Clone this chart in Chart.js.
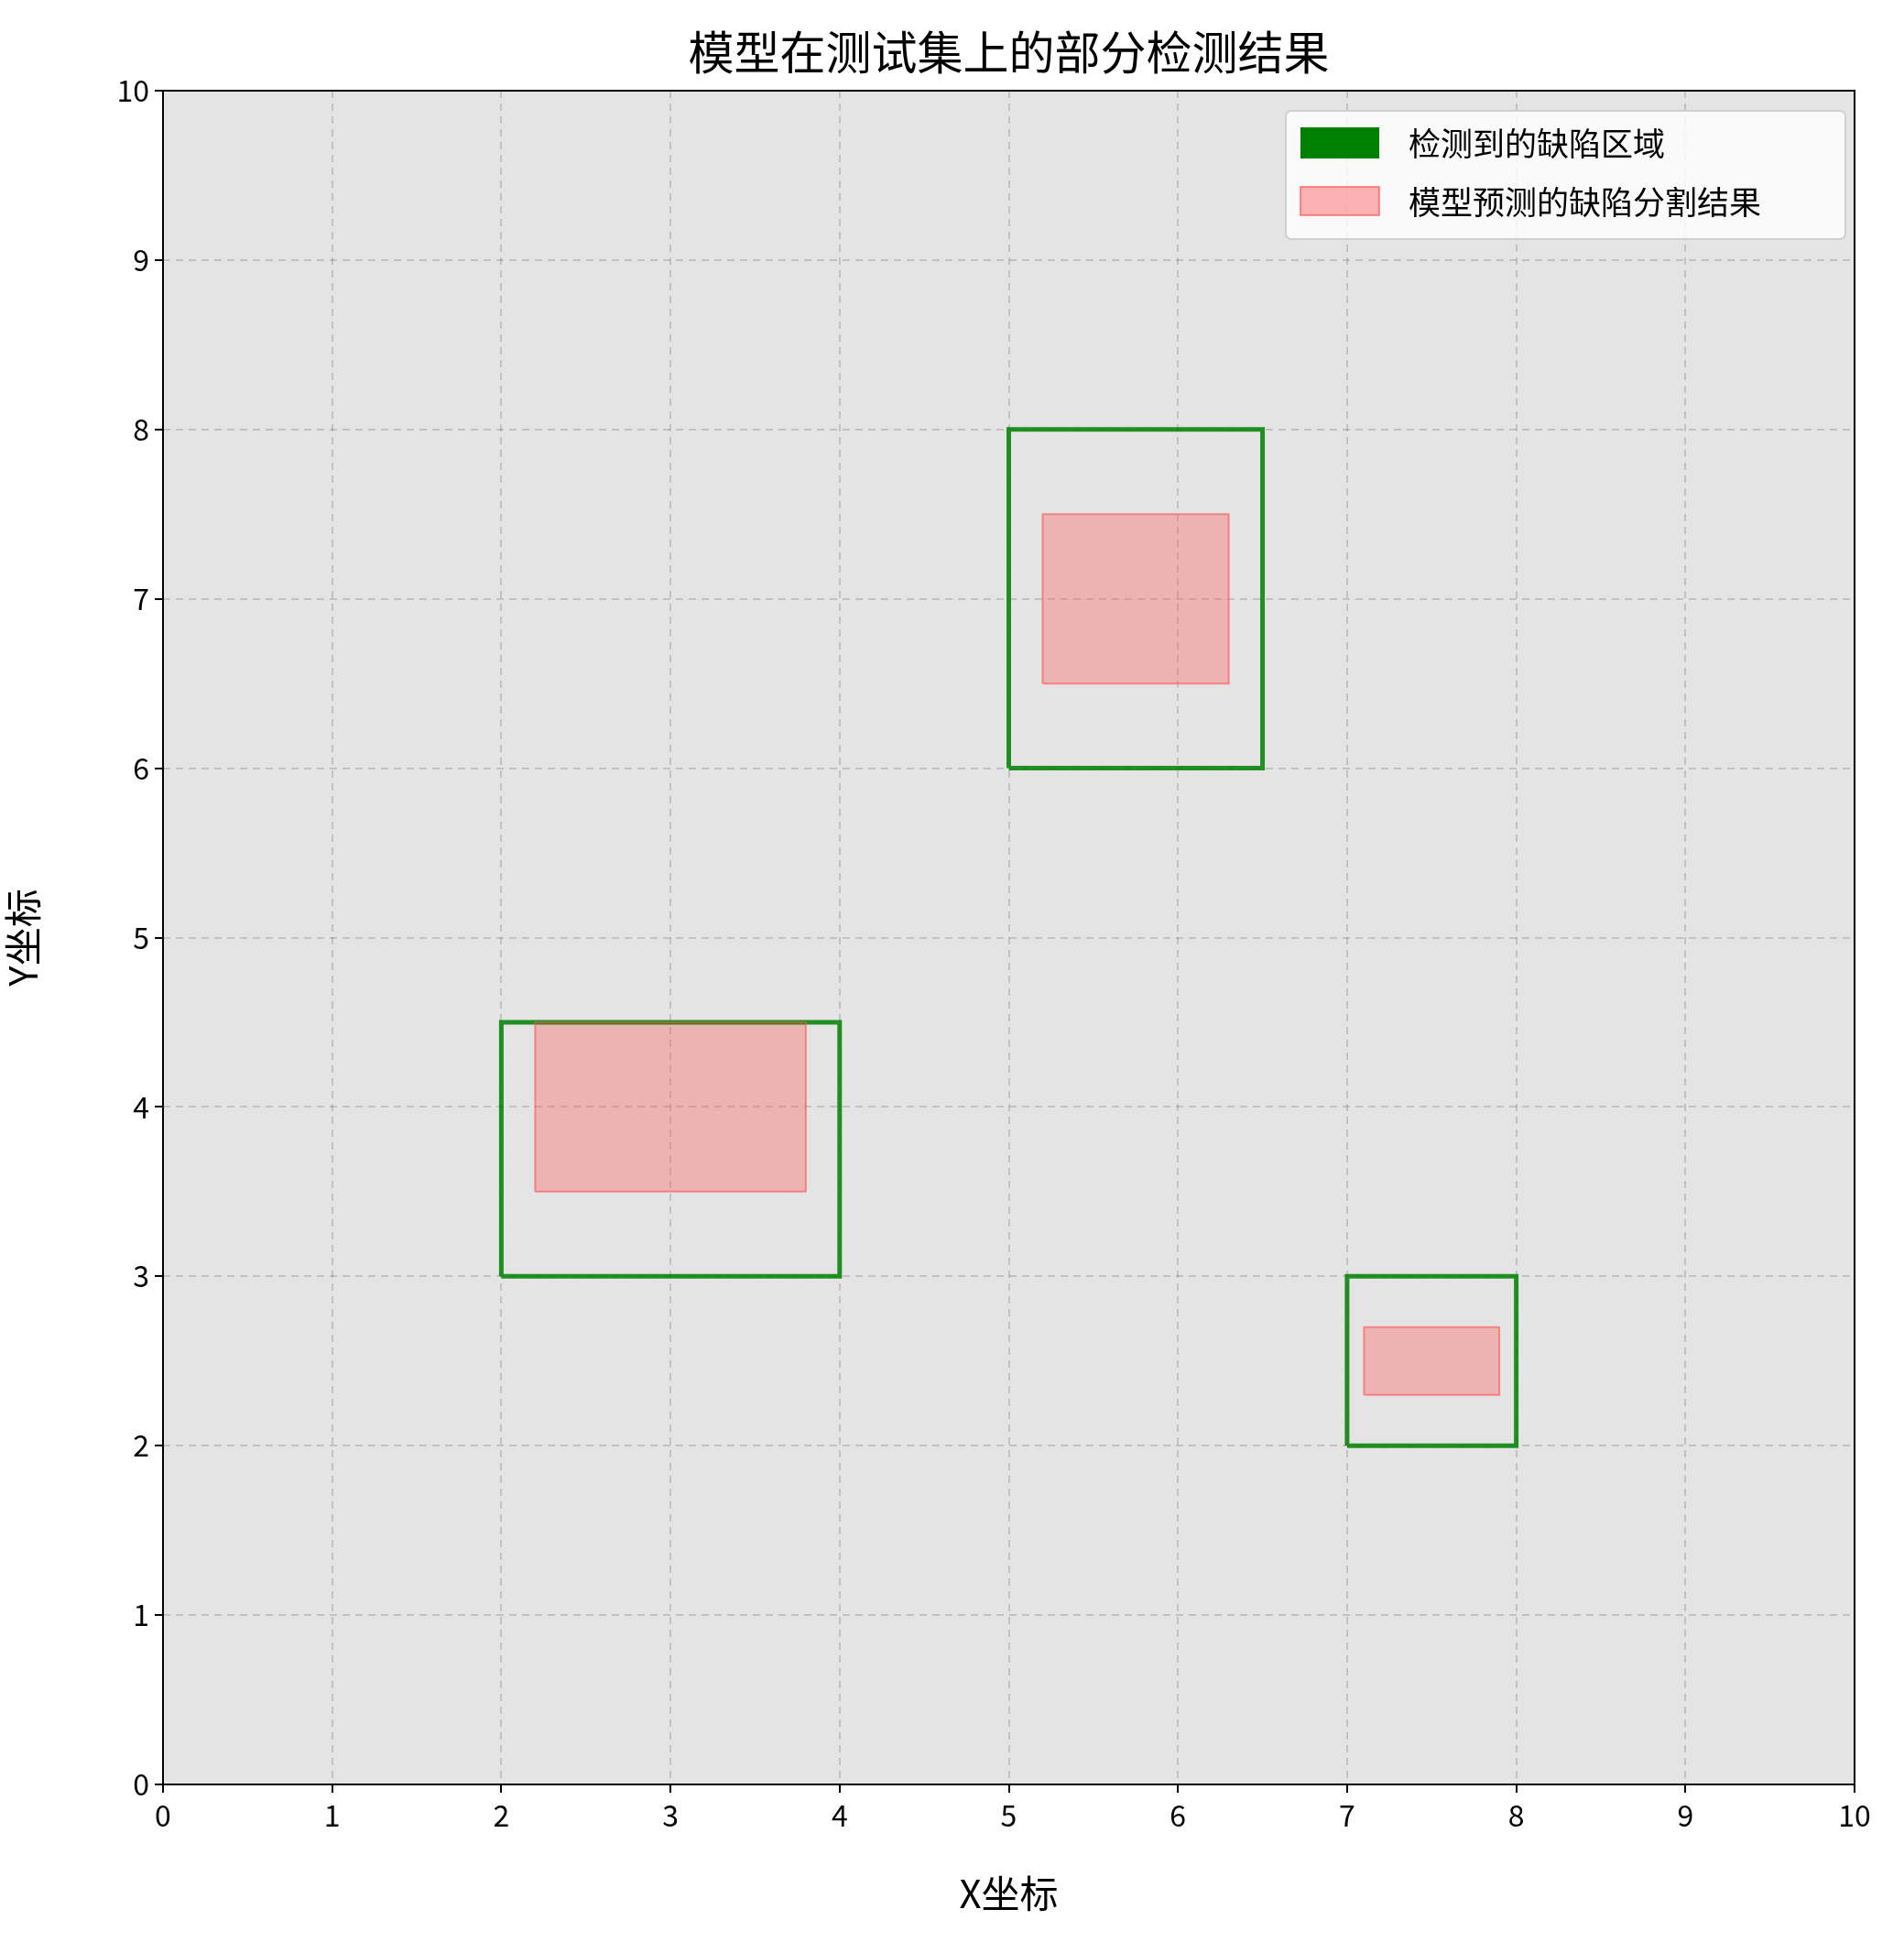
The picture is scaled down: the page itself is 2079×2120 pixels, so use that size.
<!DOCTYPE html>
<html>
<head>
<meta charset="utf-8">
<script src="https://cdn.jsdelivr.net/npm/chart.js@4/dist/chart.umd.min.js"></script>
<style>
  body { margin: 0; background: #fff; }
  canvas { display: block; }
</style>
</head>
<body>
<canvas id="c" width="2079" height="2120"></canvas>
<script>
// Data: rectangles as [x0, y0, x1, y1]
const detectedBoxes = [[2, 3, 4, 4.5], [5, 6, 6.5, 8], [7, 2, 8, 3]];
const predictedMasks = [[2.2, 3.5, 3.8, 4.5], [5.2, 6.5, 6.3, 7.5], [7.1, 2.3, 7.9, 2.7]];
const tickValues = [0, 1, 2, 3, 4, 5, 6, 7, 8, 9, 10];
const legendLabels = ['检测到的缺陷区域', '模型预测的缺陷分割结果'];
const titleText = '模型在测试集上的部分检测结果';

const FONT = '"Noto Sans CJK SC", "Noto Sans", sans-serif';
const GREEN = 'rgba(0,128,0,0.85)';
const PINK_FILL = 'rgba(255,90,90,0.35)';
const PINK_LINE = 'rgba(255,80,80,0.6)';

function rectPoints(r) {
    return [{x: r[0], y: r[1]}, {x: r[2], y: r[1]}, {x: r[2], y: r[3]}, {x: r[0], y: r[3]}, {x: r[0], y: r[1]}];
}

const datasets = [];
predictedMasks.forEach(r => datasets.push({
    data: rectPoints(r), showLine: true, fill: false, tension: 0,
    borderColor: PINK_LINE, borderWidth: 2, pointRadius: 0
}));
detectedBoxes.forEach(r => datasets.push({
    data: rectPoints(r), showLine: true, fill: false, tension: 0,
    borderColor: GREEN, borderWidth: 5, pointRadius: 0
}));

// Plot background, mask fill, frame, title and legend
const decor = {
    id: 'decor',
    beforeDraw(chart) {
        const {ctx, chartArea: a} = chart;
        ctx.save();
        ctx.fillStyle = '#e4e4e4';
        ctx.fillRect(a.left, a.top, a.right - a.left, a.bottom - a.top);
        ctx.restore();
    },
    beforeDatasetsDraw(chart) {
        const {ctx, scales: {x, y}} = chart;
        ctx.save();
        ctx.fillStyle = PINK_FILL;
        predictedMasks.forEach(r => {
            const x0 = x.getPixelForValue(r[0]), x1 = x.getPixelForValue(r[2]);
            const y0 = y.getPixelForValue(r[1]), y1 = y.getPixelForValue(r[3]);
            ctx.fillRect(x0, y1, x1 - x0, y0 - y1);
        });
        ctx.restore();
    },
    afterDraw(chart) {
        const {ctx, chartArea: a} = chart;
        ctx.save();
        ctx.strokeStyle = '#000';
        ctx.lineWidth = 2;
        ctx.strokeRect(a.left, a.top, a.right - a.left, a.bottom - a.top);
        ctx.fillStyle = '#000';
        ctx.font = '50px ' + FONT;
        ctx.textAlign = 'center';
        ctx.textBaseline = 'middle';
        ctx.fillText(titleText, (a.left + a.right) / 2, 57);
        // legend
        const lx = 1404, ly = 121, lw = 611, lh = 140;
        ctx.fillStyle = 'rgba(255,255,255,0.8)';
        ctx.strokeStyle = '#d0d0d0';
        ctx.lineWidth = 2;
        ctx.beginPath();
        ctx.roundRect(lx, ly, lw, lh, 6);
        ctx.fill();
        ctx.stroke();
        ctx.fillStyle = 'green';
        ctx.fillRect(1420, 139, 86, 34);
        ctx.fillStyle = 'rgba(255,90,90,0.45)';
        ctx.fillRect(1420, 204, 86, 31);
        ctx.strokeStyle = PINK_LINE;
        ctx.strokeRect(1420, 204, 86, 31);
        ctx.fillStyle = '#000';
        ctx.font = '35px ' + FONT;
        ctx.textAlign = 'left';
        ctx.fillText(legendLabels[0], 1538, 157);
        ctx.fillText(legendLabels[1], 1538, 221);
        ctx.restore();
    }
};

function axis(title, fit) {
    return {
        type: 'linear', min: 0, max: 10,
        afterBuildTicks: s => { s.ticks = tickValues.map(v => ({value: v})); },
        afterFit: fit,
        ticks: { color: '#000', font: {size: 32, family: FONT}, padding: 6 },
        grid: { color: 'rgba(0,0,0,0.15)', lineWidth: 2, tickColor: '#000', tickLength: 9, tickBorderDash: [] },
        border: { display: false, dash: [8, 6] },
        title: { display: true, text: title, color: '#000', font: {size: 42, family: FONT} }
    };
}

const xs = axis('X坐标', s => { s.height = 172; });
xs.title.padding = {top: 0, bottom: 28};
const ys = axis('Y坐标', s => { s.width = 178; });
ys.title.padding = {top: 0, bottom: 66};

new Chart(document.getElementById('c'), {
    type: 'scatter',
    data: { datasets },
    options: {
        responsive: false,
        devicePixelRatio: 1,
        animation: false,
        layout: { padding: {top: 99, right: 54, left: 0, bottom: 0} },
        plugins: { legend: {display: false}, tooltip: {enabled: false} },
        scales: { x: xs, y: ys }
    },
    plugins: [decor]
});
</script>
</body>
</html>
